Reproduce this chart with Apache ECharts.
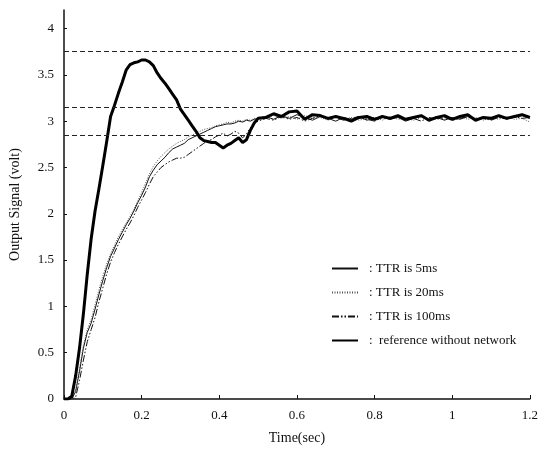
<!DOCTYPE html>
<html>
<head>
    <meta charset="utf-8" />
    <title>Output signal vs time</title>
    <script src="https://cdn.jsdelivr.net/npm/echarts@6/dist/echarts.min.js"></script>
    <style>
        html, body { margin: 0; padding: 0; background: #fff; }
        #main { width: 541px; height: 450px; }
    </style>
</head>
<body>
    <div id="main"></div>
    <script>
        // time samples (sec): 0.01 steps up to 0.5, then 0.02 steps
        var time = [
            0, 0.01, 0.02, 0.03, 0.04, 0.05, 0.06, 0.07, 0.08, 0.09,
            0.10, 0.11, 0.12, 0.13, 0.14, 0.15, 0.16, 0.17, 0.18, 0.19,
            0.20, 0.21, 0.22, 0.23, 0.24, 0.25, 0.26, 0.27, 0.28, 0.29,
            0.30, 0.31, 0.32, 0.33, 0.34, 0.35, 0.36, 0.37, 0.38, 0.39,
            0.40, 0.41, 0.42, 0.43, 0.44, 0.45, 0.46, 0.47, 0.48, 0.49,
            0.50, 0.52, 0.54, 0.56, 0.58, 0.60, 0.62, 0.64, 0.66, 0.68,
            0.70, 0.72, 0.74, 0.76, 0.78, 0.80, 0.82, 0.84, 0.86, 0.88,
            0.90, 0.92, 0.94, 0.96, 0.98, 1.00, 1.02, 1.04, 1.06, 1.08,
            1.10, 1.12, 1.14, 1.16, 1.18, 1.20
        ];

        var ttr5 = [
            0, 0, 0, 0.08, 0.30, 0.55, 0.72, 0.82, 0.97, 1.13,
            1.28, 1.42, 1.54, 1.63, 1.72, 1.80, 1.88, 1.95, 2.03, 2.12,
            2.20, 2.29, 2.40, 2.47, 2.53, 2.57, 2.61, 2.66, 2.70, 2.72,
            2.74, 2.76, 2.80, 2.82, 2.84, 2.86, 2.88, 2.90, 2.92, 2.94,
            2.95, 2.96, 2.97, 2.97, 2.98, 3.00, 2.99, 3.01, 3.00, 3.02,
            3.03, 3.05, 3.02, 3.06, 3.03, 3.07, 3.04, 3.01, 3.05, 3.03,
            3.00, 3.04, 3.02, 3.05, 3.01, 3.03, 3.05, 3.02, 3.04, 3.00,
            3.03, 3.05, 3.02, 3.04, 3.01, 3.04, 3.02, 3.05, 3.01, 3.04,
            3.02, 3.05, 3.03, 3.04, 3.06, 3.03
        ];

        var ttr20 = [
            0, 0, 0, 0.10, 0.33, 0.58, 0.75, 0.86, 1.02, 1.18,
            1.33, 1.46, 1.57, 1.66, 1.75, 1.83, 1.90, 1.97, 2.05, 2.14,
            2.23, 2.33, 2.43, 2.51, 2.57, 2.62, 2.66, 2.70, 2.73, 2.76,
            2.78, 2.80, 2.83, 2.85, 2.87, 2.89, 2.91, 2.92, 2.93, 2.95,
            2.96, 2.97, 2.99, 2.98, 3.00, 3.01, 3.00, 3.02, 3.01, 3.03,
            3.02, 3.04, 3.06, 3.03, 3.05, 3.02, 3.06, 3.03, 3.04, 3.01,
            3.05, 3.02, 3.04, 3.01, 3.03, 3.04, 3.01, 3.05, 3.02, 3.03,
            3.01, 3.04, 3.02, 3.05, 3.02, 3.03, 3.05, 3.02, 3.04, 3.01,
            3.04, 3.02, 3.05, 3.02, 3.03, 2.99
        ];

        var ttr100 = [
            0, 0, 0, 0.02, 0.20, 0.42, 0.62, 0.75, 0.88, 1.05,
            1.20, 1.35, 1.48, 1.58, 1.67, 1.75, 1.83, 1.90, 1.98, 2.07,
            2.15, 2.23, 2.32, 2.40, 2.45, 2.50, 2.53, 2.56, 2.58, 2.60,
            2.60, 2.61, 2.64, 2.67, 2.70, 2.73, 2.76, 2.79, 2.80, 2.83,
            2.85, 2.87, 2.84, 2.86, 2.89, 2.87, 2.82, 2.86, 2.93, 2.97,
            3.00, 3.03, 3.01, 3.05, 3.02, 3.04, 3.00, 3.03, 3.06, 3.02,
            3.04, 3.01, 3.03, 3.05, 3.02, 3.00, 3.04, 3.02, 3.05, 3.01,
            3.03, 3.00, 3.04, 3.02, 3.04, 3.01, 3.03, 3.05, 3.02, 3.03,
            3.01, 3.04, 3.02, 3.05, 3.03, 3.04
        ];

        var reference = [
            0, 0, 0.03, 0.25, 0.55, 0.92, 1.35, 1.73, 2.03, 2.27,
            2.52, 2.78, 3.05, 3.17, 3.30, 3.42, 3.55, 3.61, 3.63, 3.64,
            3.66, 3.66, 3.64, 3.60, 3.52, 3.46, 3.41, 3.35, 3.29, 3.23,
            3.13, 3.07, 3.01, 2.95, 2.89, 2.82, 2.79, 2.78, 2.77, 2.77,
            2.74, 2.71, 2.74, 2.76, 2.79, 2.82, 2.77, 2.80, 2.90, 2.98,
            3.03, 3.04, 3.08, 3.05, 3.10, 3.11, 3.02, 3.07, 3.06, 3.03,
            3.05, 3.03, 3.00, 3.04, 3.05, 3.02, 3.05, 3.03, 3.06, 3.02,
            3.04, 3.06, 3.01, 3.04, 3.06, 3.02, 3.05, 3.07, 3.01, 3.04,
            3.03, 3.06, 3.03, 3.05, 3.07, 3.04
        ];

        // horizontal dashed bands: overshoot limit, +5%, -5%
        var bandLevels = [3.75, 3.15, 2.85];

        var seriesNames = [': TTR is 5ms', ': TTR is 20ms', ': TTR is 100ms', ':  reference without network'];

        function pairs(ys) {
            return time.map(function (t, i) { return [t, ys[i]]; });
        }

        var font = 'Liberation Serif';
        var myChart = echarts.init(document.getElementById('main'));

        myChart.setOption({
            backgroundColor: '#fff',
            animation: false,
            grid: { left: 61, right: 7, top: 10, bottom: 49 },
            legend: {
                orient: 'vertical',
                left: 326,
                top: 257,
                itemWidth: 26,
                itemHeight: 12,
                itemGap: 11,
                itemStyle: { opacity: 0 },
                textStyle: { fontFamily: font, fontSize: 13, color: '#111', padding: [0, 0, 0, 6] },
                data: seriesNames
            },
            xAxis: {
                type: 'value',
                min: 0,
                max: 1.2,
                interval: 0.2,
                name: 'Time(sec)',
                nameLocation: 'middle',
                nameGap: 32,
                nameTextStyle: { fontFamily: font, fontSize: 14, color: '#111' },
                axisLine: { lineStyle: { color: '#111', width: 1.5 } },
                axisTick: { inside: true, length: 4, lineStyle: { color: '#111' } },
                axisLabel: { fontFamily: font, fontSize: 13, color: '#111', margin: 10 },
                splitLine: { show: false }
            },
            yAxis: {
                type: 'value',
                min: 0,
                max: 4.2,
                interval: 0.5,
                name: 'Output Signal (volt)',
                nameLocation: 'middle',
                nameGap: 42,
                nameTextStyle: { fontFamily: font, fontSize: 14, color: '#111' },
                axisLine: { show: true, lineStyle: { color: '#111', width: 1.5 } },
                axisTick: { inside: true, length: 3, lineStyle: { color: '#111' } },
                axisLabel: {
                    fontFamily: font, fontSize: 13, color: '#111', margin: 10,
                    showMaxLabel: false
                },
                splitLine: { show: false }
            },
            series: [
                {
                    name: seriesNames[0],
                    type: 'line',
                    data: pairs(ttr5),
                    symbol: 'none',
                    color: '#111',
                    lineStyle: { color: '#111', width: 1 },
                    markLine: {
                        silent: true,
                        symbol: 'none',
                        label: { show: false },
                        lineStyle: { color: '#222', width: 1, type: [5, 3] },
                        data: bandLevels.map(function (v) { return { yAxis: v }; })
                    }
                },
                {
                    name: seriesNames[1],
                    type: 'line',
                    data: pairs(ttr20),
                    symbol: 'none',
                    color: '#555',
                    lineStyle: { color: '#555', width: 1, type: [1, 1.5] }
                },
                {
                    name: seriesNames[2],
                    type: 'line',
                    data: pairs(ttr100),
                    symbol: 'none',
                    color: '#111',
                    lineStyle: { color: '#111', width: 1, type: [7, 2, 1.5, 2, 1.5, 2] }
                },
                {
                    name: seriesNames[3],
                    type: 'line',
                    data: pairs(reference),
                    symbol: 'none',
                    color: '#000',
                    lineStyle: { color: '#000', width: 3 }
                }
            ]
        });
    </script>
</body>
</html>
